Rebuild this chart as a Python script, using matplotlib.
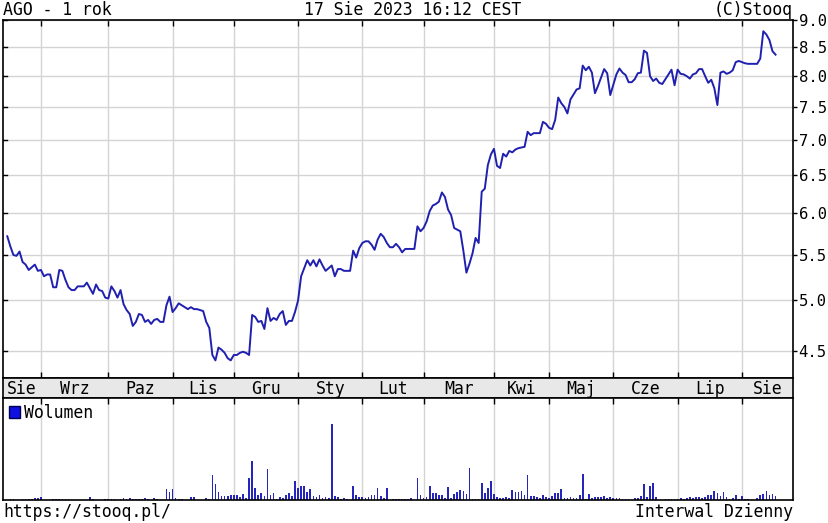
import numpy as np
import pandas as pd
import matplotlib
matplotlib.use('Agg')
import matplotlib.pyplot as plt
from matplotlib.ticker import FixedLocator, FuncFormatter, NullLocator
from matplotlib.patches import Patch

# trading days (GPW), Aug 2022 - Aug 2023
holidays = ['2022-11-01', '2022-11-11', '2022-12-26', '2023-01-06', '2023-04-07',
            '2023-04-10', '2023-05-01', '2023-05-03', '2023-06-08', '2023-08-15']
dates = pd.bdate_range('2022-08-17', '2023-08-17')
dates = dates[~dates.isin(pd.to_datetime(holidays))]

# closing price, one value per session
price = [
    5.72, 5.60, 5.50, 5.49, 5.54, 5.42, 5.39, 5.33, 5.36, 5.39, 5.32,
    5.33, 5.26, 5.28, 5.28, 5.14, 5.14, 5.33, 5.32, 5.22, 5.14, 5.11, 5.11, 5.15, 5.15, 5.15, 5.19, 5.13, 5.07, 5.17, 5.11, 5.10, 5.03,
    5.02, 5.15, 5.10, 5.03, 5.11, 4.96, 4.90, 4.86, 4.74, 4.78, 4.86, 4.85, 4.78, 4.80, 4.76, 4.80, 4.81, 4.78, 4.78, 4.95, 5.04,
    4.88, 4.92, 4.97, 4.95, 4.93, 4.91, 4.93, 4.91, 4.91, 4.90, 4.89, 4.78, 4.72, 4.46, 4.41, 4.53, 4.51, 4.48, 4.43, 4.41,
    4.46, 4.46, 4.48, 4.49, 4.48, 4.46, 4.85, 4.83, 4.78, 4.79, 4.71, 4.92, 4.79, 4.82, 4.80, 4.86, 4.89, 4.75, 4.79, 4.79, 4.88,
    5.00, 5.26, 5.35, 5.44, 5.38, 5.44, 5.37, 5.45, 5.38, 5.32, 5.35, 5.38, 5.26, 5.34, 5.34, 5.32, 5.32, 5.32, 5.55, 5.47, 5.58,
    5.64, 5.66, 5.66, 5.62, 5.56, 5.68, 5.75, 5.71, 5.64, 5.59, 5.59, 5.63, 5.59, 5.53, 5.57, 5.57, 5.57, 5.57, 5.84, 5.78,
    5.82, 5.90, 6.03, 6.10, 6.12, 6.15, 6.27, 6.21, 6.05, 5.98, 5.82, 5.80, 5.78, 5.55, 5.30, 5.40, 5.52, 5.70, 5.64, 6.28, 6.32, 6.64, 6.79,
    6.87, 6.63, 6.60, 6.80, 6.76, 6.84, 6.82, 6.86, 6.88, 6.89, 6.90, 7.12, 7.07, 7.10, 7.10, 7.10, 7.27, 7.24,
    7.18, 7.16, 7.30, 7.65, 7.56, 7.50, 7.40, 7.62, 7.70, 7.78, 7.80, 8.18, 8.10, 8.16, 8.06, 7.72, 7.84, 7.98, 8.12, 8.05, 7.69,
    7.86, 8.03, 8.13, 8.06, 8.02, 7.90, 7.90, 7.95, 8.05, 8.06, 8.44, 8.40, 8.00, 7.92, 7.96, 7.89, 7.87, 7.95, 8.03, 8.11, 7.85,
    8.11, 8.04, 8.03, 8.00, 7.96, 8.03, 8.05, 8.12, 8.12, 8.00, 7.89, 7.94, 7.80, 7.53, 8.06, 8.08, 8.04, 8.06, 8.10, 8.24, 8.26,
    8.24, 8.22, 8.21, 8.21, 8.21, 8.21, 8.30, 8.79, 8.73, 8.63, 8.43, 8.37,
]

# volume (relative units)
volume = [
    0, 1, 1, 0, 0, 1, 1, 1, 1, 2, 2,
    3, 0, 0, 0, 1, 1, 1, 1, 1, 1, 0, 0, 0, 0, 0, 0, 3, 1, 0, 0, 0, 1,
    1, 1, 1, 0, 1, 2, 1, 2, 1, 1, 1, 1, 2, 1, 0, 2, 1, 0, 0, 11, 8,
    11, 2, 1, 1, 0, 0, 3, 3, 0, 0, 0, 2, 1, 25, 16, 8, 4, 4, 4, 5,
    5, 5, 3, 6, 2, 22, 39, 12, 5, 7, 4, 31, 5, 7, 1, 3, 2, 5, 7, 4, 19,
    12, 14, 14, 8, 11, 4, 3, 5, 2, 3, 2, 76, 4, 3, 1, 2, 1, 0, 14, 5, 3,
    3, 2, 3, 5, 5, 12, 4, 2, 12, 0, 1, 1, 1, 1, 1, 1, 2, 0, 22, 5,
    2, 3, 14, 7, 7, 5, 5, 2, 13, 2, 6, 8, 10, 9, 6, 32, 1, 1, 1, 17, 7, 12, 19,
    6, 3, 2, 2, 3, 2, 10, 8, 8, 9, 5, 25, 4, 4, 3, 2, 5, 3,
    2, 4, 7, 7, 11, 2, 2, 3, 2, 2, 5, 26, 1, 6, 2, 3, 3, 3, 4, 2, 3,
    2, 2, 2, 1, 1, 1, 0, 2, 2, 4, 16, 3, 14, 17, 3, 0, 0, 1, 1, 1, 1,
    1, 2, 1, 2, 3, 2, 3, 3, 2, 3, 5, 5, 9, 7, 4, 8, 3, 1, 2, 5, 1,
    4, 1, 1, 0, 0, 2, 5, 6, 9, 5, 6, 4,
]

month_names = ['Sie', 'Wrz', 'Paz', 'Lis', 'Gru', 'Sty', 'Lut', 'Mar',
               'Kwi', 'Maj', 'Cze', 'Lip', 'Sie']
price_ticks = [4.5, 5.0, 5.5, 6.0, 6.5, 7.0, 7.5, 8.0, 8.5, 9.0]

x = np.arange(len(dates))
month_start = [i for i in range(1, len(dates)) if dates[i].month != dates[i - 1].month]
xmin, xmax = -1.4, 256.7
bounds = [xmin] + month_start + [xmax]
centers = [(a + b) / 2 for a, b in zip(bounds[:-1], bounds[1:])]

line_color = '#2020b0'
bar_color = '#2626bc'
grid_color = '#d4d4d4'
font = dict(family='DejaVu Sans Mono', size=11.9)

W, H = 829, 523
fig = plt.figure(figsize=(W / 100, H / 100), dpi=100)

def box(l, t, r, b):
    return [l / W, 1 - b / H, (r - l) / W, (b - t) / H]

ax = fig.add_axes(box(3, 20, 793, 378))
ax_m = fig.add_axes(box(3, 378, 793, 398))
ax_v = fig.add_axes(box(3, 398, 793, 500))

# price panel
ax.plot(x, price, color=line_color, lw=1.4)
ax.set_yscale('log')
ax.set_ylim(4.25, 9.0)
ax.set_xlim(xmin, xmax)
ax.yaxis.set_major_locator(FixedLocator(price_ticks))
ax.yaxis.set_minor_locator(NullLocator())
ax.yaxis.set_major_formatter(FuncFormatter(lambda v, p: f'{v:.1f}'))
ax.yaxis.tick_right()
ax.tick_params(axis='y', which='major', direction='out', length=3, width=1,
               right=True, left=False, pad=1)
for lab in ax.get_yticklabels():
    lab.set_fontfamily(font['family'])
    lab.set_fontsize(11.2)
ax.xaxis.set_major_locator(FixedLocator(month_start))
ax.tick_params(axis='x', direction='in', length=4, width=1, top=True, bottom=True,
               labelbottom=False)
ax.grid(True, color=grid_color, lw=1)
for lv in price_ticks:
    ax.plot([xmin, xmin + 1.3], [lv, lv], color='black', lw=1)

# month strip
ax_m.set_xlim(xmin, xmax)
ax_m.set_ylim(0, 1)
ax_m.set_facecolor('#e8e8e8')
ax_m.set_xticks([])
ax_m.set_yticks([])
for cx, name in zip(centers, month_names):
    ax_m.text(cx, 0.45, name, ha='center', va='center', **font)

# volume panel
ax_v.bar(x, volume, width=0.55, color=bar_color, linewidth=0)
ax_v.set_xlim(xmin, xmax)
ax_v.set_ylim(0, 102)
ax_v.set_yticks([])
ax_v.xaxis.set_major_locator(FixedLocator(month_start))
ax_v.tick_params(axis='x', direction='in', length=4, width=1, top=True, bottom=False,
                 labelbottom=False)
ax_v.grid(True, axis='x', color=grid_color, lw=1)
ax_v.legend(handles=[Patch(facecolor='#1010e0', edgecolor='#000050', label='Wolumen')],
            loc='upper left', frameon=False, handlelength=0.7, handleheight=0.8,
            handletextpad=0.25, borderaxespad=0.15, borderpad=0.2,
            prop={'family': font['family'], 'size': font['size']})

for a in (ax, ax_m, ax_v):
    a.set_axisbelow(True)
    for s in a.spines.values():
        s.set_linewidth(1.2)
        s.set_color('black')

# header / footer texts
fig.text(3 / W, 1 - 10 / H, 'AGO - 1 rok', ha='left', va='center', **font)
fig.text(413 / W, 1 - 10 / H, '17 Sie 2023 16:12 CEST', ha='center', va='center', **font)
fig.text(793 / W, 1 - 10 / H, '(C)Stooq', ha='right', va='center', **font)
fig.text(3 / W, 1 - 512 / H, 'https://stooq.pl/', ha='left', va='center', **font)
fig.text(793 / W, 1 - 512 / H, 'Interwal Dzienny', ha='right', va='center', **font)

fig.savefig('out.png', dpi=100)
